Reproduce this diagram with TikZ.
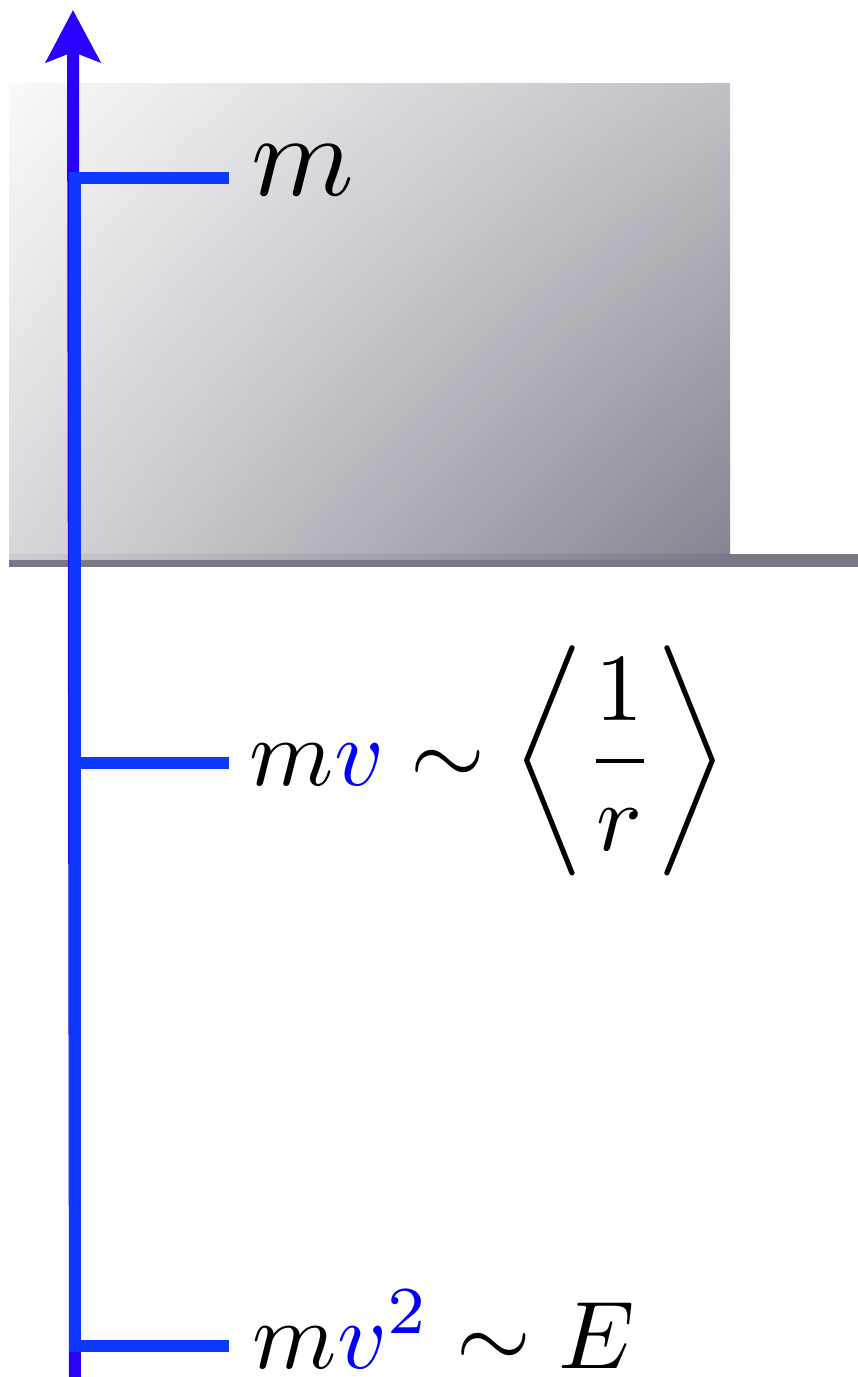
\documentclass[tikz,border=0pt]{standalone}
\usepackage{amsmath}
\usetikzlibrary{arrows.meta,shadings}
\definecolor{tickblue}{RGB}{12,56,255}
\definecolor{arrowpurple}{RGB}{42,0,255}
\definecolor{floorgray}{RGB}{122,119,137}
\definecolor{shTL}{RGB}{249,249,250}
\definecolor{shTR}{RGB}{186,186,192}
\definecolor{shBL}{RGB}{212,212,216}
\definecolor{shBR}{RGB}{122,121,135}
\begin{document}
\begin{tikzpicture}[x=1pt,y=-1pt,
  tick/.style={draw=tickblue,line width=12pt,line join=miter},
  axisarrow/.style={draw=arrowpurple,line width=12pt,-{Stealth[length=52pt,width=54pt,inset=10pt]}},
  lbl/.style={anchor=base west,inner sep=0pt}]
\useasboundingbox (0,0) rectangle (858,1377);
% floor band and shaded block
\fill[floorgray] (9,554) rectangle (858,567);
\shade[upper left=shTL,upper right=shTR,lower left=shBL,lower right=shBR,fill opacity=0.92] (9,83) rectangle (730,559);
% coordinates
\coordinate (abot) at (75,1377);
\coordinate (atop) at (73,10);
\coordinate (t1a) at (229,178);
\coordinate (t1b) at (75,178);
\coordinate (t3b) at (75,1346);
\coordinate (t3a) at (229,1346);
\coordinate (t2b) at (69,763);
\coordinate (t2a) at (229,763);
% axis arrow
\draw[axisarrow] (abot) -- (atop);
% blue ticks
\draw[tick] (t1a) -- (t1b) -- (t3b) -- (t3a);
\draw[tick] (t2b) -- (t2a);
% labels
\node[lbl,scale=11.7] (l1) at (249,195) {$m$};
\node[lbl,scale=9.6] (l2) at (248,785) {$m{\color{blue}v}\sim\left\langle\dfrac{1}{r}\right\rangle$};
\node[lbl,scale=9.6] (l3) at (251,1368) {$m{\color{blue}v^2}\sim E$};
\end{tikzpicture}
\end{document}
